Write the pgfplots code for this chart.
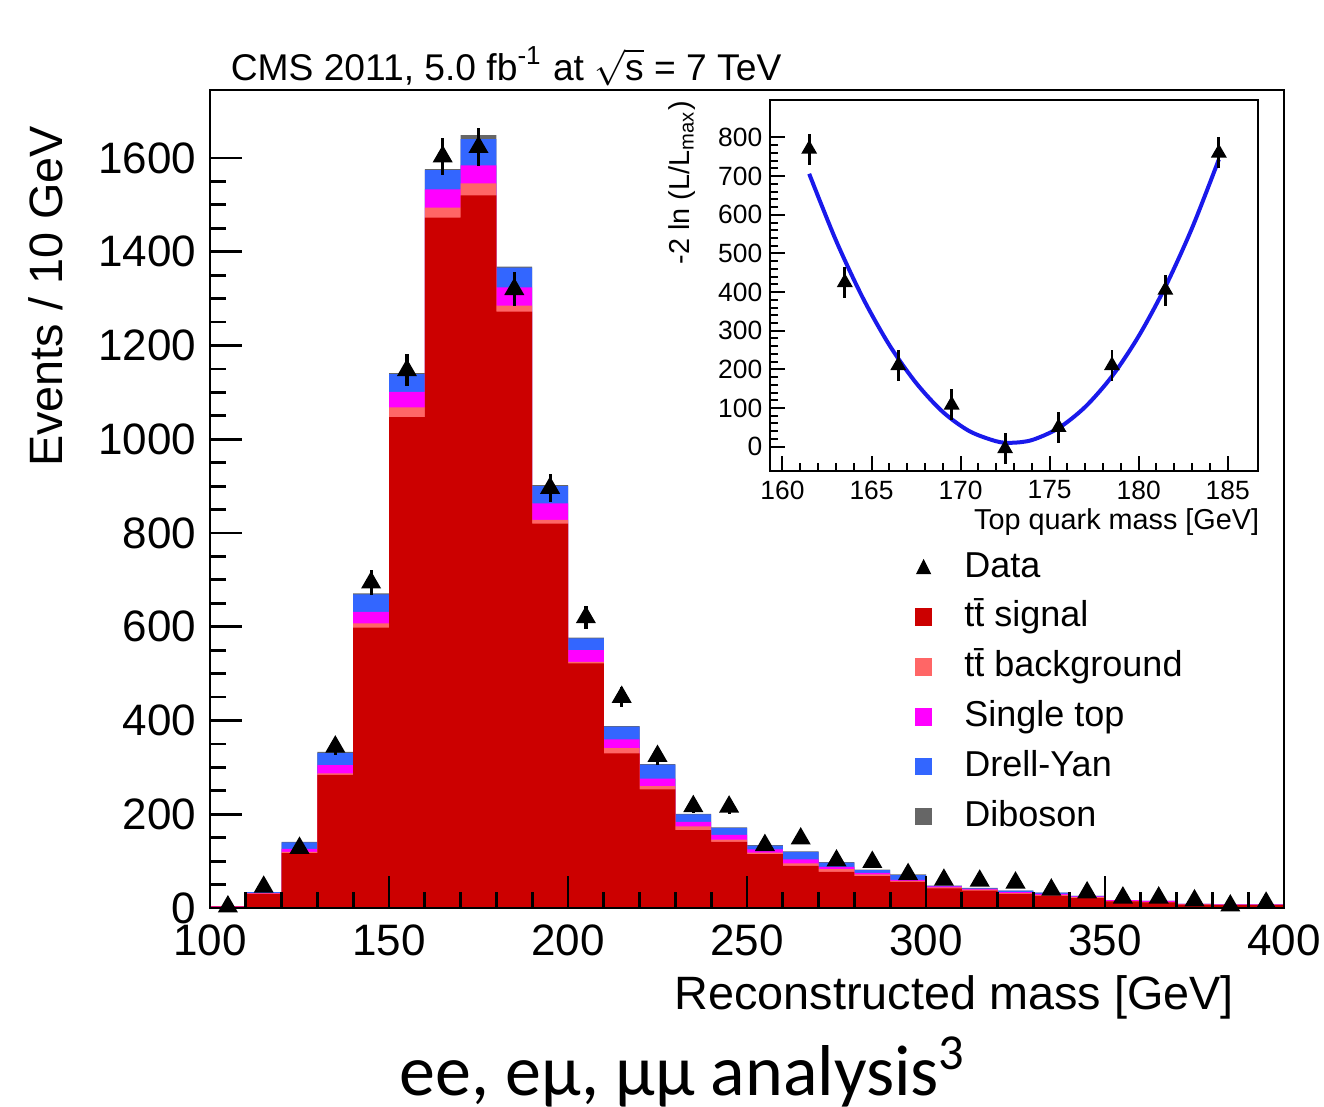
\documentclass[border=0pt]{standalone}
\usepackage{fontspec}
\setmainfont{Liberation Sans}
\newfontfamily\capfont{Carlito}
\usepackage{pgfplots}
\usepackage{pgfplotstable}
\pgfplotsset{compat=1.18}

\definecolor{sigred}{RGB}{204,0,0}
\definecolor{bkgsalmon}{RGB}{255,102,102}
\definecolor{stmag}{RGB}{255,0,255}
\definecolor{dyblue}{RGB}{51,102,255}
\definecolor{vvgray}{RGB}{102,102,102}
\definecolor{fitblue}{RGB}{25,25,235}

% cumulative stack levels per 10 GeV bin (left bin edge)
% R = tt signal, S = +tt bkg, M = +single top, B = +Drell-Yan, G = +diboson
\pgfplotstableread{
lo   R     S     M     B     G
100  3     3     4     4     4
110  30    31    32    34    34
120  117   120   126   140   141
130  284   287   305   331   333
140  598   607   632   669   671
150  1047  1068  1101  1139  1141
160  1473  1494  1533  1574  1576
170  1520  1546  1584  1640  1649
180  1272  1285  1324  1366  1368
190  820   828   863   900   902
200  522   525   550   575   577
210  330   341   360   387   388
220  253   260   276   306   307
230  166   174   184   200   201
240  141   146   156   171   172
250  115   118   125   133   134
260  90    95    104   120   121
270  77    83    88    97    98
280  68    72    75    81    82
290  56    58    60    70    72
300  42    44    46    47    48
310  37    39    41    42    43
320  30    32    34    37    37
330  26    28    30    33    33
340  21    23    25    26    26
350  14    15    17    17    17
360  12    13    15    15    15
370  7     8     9     9     9
380  6     7     8     8     8
390  6     7     8     8     8
400  6     7     8     8     8
}\stack

\pgfplotstableread{
x    n     e
105  3     1.7
115  45    6.7
125  128   11.3
135  344   18.5
145  694   26.3
155  1147  33.9
165  1603  40.0
175  1623  40.3
185  1320  36.3
195  896   29.9
205  620   24.9
215  450   21.2
225  324   18.0
235  217   14.7
245  216   14.7
255  134   11.6
265  148   12.2
275  101   10.0
285  98    9.9
295  72    8.5
305  60    7.7
315  58    7.6
325  54    7.3
335  39    6.2
345  33    5.7
355  22    4.7
365  22    4.7
375  16    4.0
385  5     2.2
395  11    3.3
}\mdata

\pgfplotstableread{
m      v     e
161.5  770   40
163.5  425   40
166.5  210   40
169.5  108   40
172.5  -5    40
175.5  50    40
178.5  210   40
181.5  405   40
184.5  760   40
}\scan

\pgfplotsset{
  stk/.style={const plot, fill=#1, draw=none,
    legend image code/.code={\fill[#1] (0pt,-2.2pt) rectangle (4.4pt,2.2pt);}},
}

\begin{document}
\begin{tikzpicture}
\useasboundingbox (-52.5pt,-49.5pt) rectangle (278.5pt,227pt);
\begin{axis}[
  name=main,
  scale only axis, width=268.5pt, height=204.5pt,
  xmin=100, xmax=400, ymin=0, ymax=1745,
  axis on top, clip=false,
  xtick={100,150,...,400}, minor x tick num=4,
  ytick={0,200,...,1600}, minor y tick num=3,
  tick align=inside, tick pos=left,
  major tick length=8pt, minor tick length=4pt,
  tick style={black, line width=0.7pt},
  axis line style={line width=0.7pt},
  /pgf/number format/assume math mode=true,
  /pgf/number format/1000 sep={},
  tick label style={font=\fontsize{11}{13}\selectfont},
  yticklabel style={inner sep=0pt, xshift=-3.25pt},
  xticklabel style={inner sep=0pt, yshift=-4pt},
  xlabel={Reconstructed mass [GeV]},
  ylabel={Events / 10 GeV},
  label style={font=\fontsize{11.7}{13}\selectfont},
  xlabel style={at={(axis description cs:0.954,-0.109)}, anchor=east, inner sep=0pt},
  ylabel style={at={(axis description cs:-0.153,0.957)}, anchor=east, inner sep=0pt},
  reverse legend, legend cell align=left,
  legend style={draw=none, fill=none, at={(rel axis cs:0.6555,0.446)}, anchor=north west,
    inner sep=0pt, row sep=0.75pt, font=\fontsize{9}{10}\selectfont,
    nodes={inner sep=1.5pt, text height=6.8pt, text depth=1.9pt},
    /tikz/every odd column/.append style={column sep=6.5pt}},
]
\addplot[stk=vvgray] table[x=lo, y=G]{\stack} \closedcycle;
\addlegendentry{Diboson}
\addplot[stk=dyblue] table[x=lo, y=B]{\stack} \closedcycle;
\addlegendentry{Drell-Yan}
\addplot[stk=stmag] table[x=lo, y=M]{\stack} \closedcycle;
\addlegendentry{Single top}
\addplot[stk=bkgsalmon] table[x=lo, y=S]{\stack} \closedcycle;
\addlegendentry{t\=t background}
\addplot[stk=sigred] table[x=lo, y=R]{\stack} \closedcycle;
\addlegendentry{t\=t signal}
\addplot[only marks, mark=triangle*, mark size=2.5pt, black,
  legend image code/.code={\fill[black] (0.6pt,-1.5pt) -- (3.8pt,-1.5pt) -- (2.2pt,1.7pt) -- cycle;},
  error bars/.cd, y dir=both, y explicit, error mark=none,
  error bar style={line width=0.8pt}]
  table[x=x, y=n, y error=e]{\mdata};
\addlegendentry{Data}
\end{axis}

% inset: likelihood scan versus top-quark mass
\begin{axis}[
  at={(140pt,109.25pt)}, anchor=south west,
  scale only axis, width=122pt, height=92.75pt,
  xmin=159.3, xmax=186.7, ymin=-63, ymax=897,
  xtick={160,165,...,185}, minor x tick num=4,
  ytick={0,100,...,800}, minor y tick num=4,
  tick align=inside, tick pos=left,
  major tick length=3.8pt, minor tick length=1.9pt,
  tick style={black, line width=0.5pt},
  axis line style={line width=0.6pt},
  /pgf/number format/assume math mode=true,
  tick label style={font=\fontsize{6.6}{8}\selectfont},
  yticklabel style={inner sep=0pt, xshift=-1.75pt},
  xticklabel style={inner sep=0pt, yshift=-2.25pt},
  xlabel={Top quark mass [GeV]},
  ylabel={-2 ln (L/L\textsubscript{max})},
  label style={font=\fontsize{7.2}{8}\selectfont},
  xlabel style={at={(axis description cs:1.004,-0.1375)}, anchor=east, inner sep=0pt},
  ylabel style={at={(axis description cs:-0.18,1)}, anchor=east, inner sep=0pt},
]
\addplot[fitblue, line width=1pt, smooth] coordinates {
  (161.5,706) (163,534) (164.5,386) (166,263) (167.5,165) (169,90)
  (170.5,40) (172,14) (172.85,10) (174,17) (175.5,48) (177,103)
  (178.5,182) (180,286) (181.5,414) (183,566) (184.5,743)};
\addplot[only marks, mark=triangle*, mark size=1.9pt, black,
  error bars/.cd, y dir=both, y explicit, error mark=none,
  error bar style={line width=0.7pt}]
  table[x=m, y=v, y error=e]{\scan};
\end{axis}

\node[anchor=base west, inner sep=0pt, font=\fontsize{9.3}{10}\selectfont]
  at (5pt,207pt) {CMS 2011, 5.0 fb\textsuperscript{-1} at $\sqrt{\mbox{s}}$ = 7 TeV};
\node[anchor=base, inner sep=0pt, font=\capfont\fontsize{18}{20}\selectfont]
  at (118.25pt,-46.75pt) {ee, eμ, μμ analysis\textsuperscript{3}};
\end{tikzpicture}
\end{document}
